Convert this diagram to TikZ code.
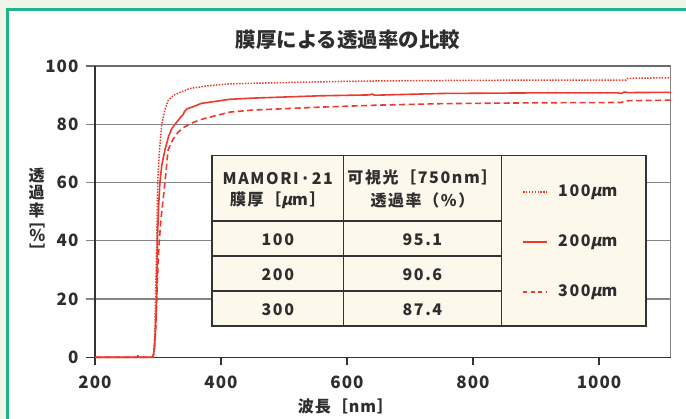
\documentclass[tikz,border=0pt]{standalone}
\usepackage{fontspec}
\setmainfont{Noto Sans CJK JP}[LetterSpace=6]
\newfontfamily\titlefont{Noto Sans CJK JP}
\newfontfamily\tblfont{Noto Sans CJK JP}[LetterSpace=10]
\newfontfamily\mufont{Noto Sans CJK JP}[FakeSlant=0.22]
\newcommand\myfs[1]{\fontsize{#1}{#1}\selectfont}
\newcommand\mymu{{\mufont μ}}
\definecolor{bgc}{HTML}{EFF6E8}
\definecolor{framec}{HTML}{1FB48C}
\definecolor{txt}{HTML}{2E2E2E}
\definecolor{gridc}{HTML}{858585}
\definecolor{axc}{HTML}{333333}
\definecolor{redc}{HTML}{EC3B2E}
\definecolor{creamc}{HTML}{FCF8EC}
\tikzset{
  gridln/.style={draw=gridc, line width=1.3pt},
  axisln/.style={draw=axc, line width=1.3pt},
  curvebase/.style={draw=redc, line width=1.6pt, line join=round},
  cdot/.style={curvebase, line width=1.5pt, dash pattern=on 1.5pt off 1.4pt},
  csolid/.style={curvebase},
  cdash/.style={curvebase, dash pattern=on 6pt off 3.5pt},
  legln/.style={draw=redc, line width=1.8pt},
  tbl/.style={draw=axc, line width=1.6pt},
  ticklab/.style={font=\bfseries\myfs{17}, text=txt, inner sep=0pt},
  celltxt/.style={font=\tblfont\bfseries\myfs{16}, text=txt, inner sep=0pt},
  labtxt/.style={font=\bfseries\myfs{16}, text=txt, inner sep=0pt},
}
\begin{document}
\begin{tikzpicture}[x=1pt,y=-1pt]
\useasboundingbox (0,0) rectangle (686,419);
\fill[bgc] (0,0) rectangle (686,419);
\draw[framec, line width=2.6pt, fill=white] (7.7,9.8) rectangle (720,450);
\node[font=\titlefont\bfseries\myfs{20.5}, text=txt, inner sep=0pt] (title) at (348,40) {膜厚による透過率の比較};

\begin{scope}[shift={(-31,357.3)}, x=0.63pt, y=2.912pt]
  \foreach \t in {20,40,60,80} \draw[gridln] (185.7,\t) -- (1114,\t);
  \draw[draw=gridc!80!black, line width=1.3pt] (185.7,100) -- (1114,100);
  \draw[gridln] (1114,0) -- (1114,100);
  \draw[axisln] (185.7,0) -- (1114,0);
  \draw[axisln] (200,-2.75) -- (200,100);
  \foreach \l in {400,600,800,1000} \draw[axisln] (\l,0) -- (\l,-2.75);
  \foreach \t in {0,20,40,60,80,100}
    \node[ticklab, anchor=east] (yl\t) at (174,\t) {\t};
  \foreach \l in {200,400,600,800,1000}
    \node[ticklab] (xl\l) at (\l,-8.5) {\l};
  % 100 um dotted
  \draw[cdot] (200,0) -- (266,0) -- (268,0.5) -- (270,0) -- (291,0) -- (293,1) -- (295,8) -- (296,20) -- (298,40) -- (299.5,60) -- (302,70) -- (306,80) -- (311,85) -- (316,88.2) -- (325,90.0) -- (335,91.0) -- (342,91.5) -- (350,92.3) -- (382,93.3) -- (414,93.9) -- (450,94.1) -- (557,94.6) -- (650,94.9) -- (700,95.0) -- (800,95.1) -- (900,95.2) -- (1000,95.2) -- (1043,95.2) -- (1046,95.8) -- (1114,96.0);
  % 200 um solid
  \draw[csolid] (200,0) -- (266,0) -- (268,0.5) -- (270,0) -- (291,0) -- (293,1) -- (295,5) -- (297,15) -- (298,22) -- (299,40) -- (301,52) -- (303,60) -- (306,66) -- (311,71.2) -- (317,76) -- (322,78.6) -- (327,80) -- (335,82.2) -- (340,83.4) -- (342,84.4) -- (346,85.3) -- (355,86.0) -- (369,87.2) -- (414,88.6) -- (450,89.0) -- (557,89.8) -- (635,90.1) -- (640,90.4) -- (644,90.0) -- (750,90.6) -- (900,90.8) -- (1030,90.8) -- (1036,90.6) -- (1040,91.1) -- (1046,90.9) -- (1114,91.0);
  % 300 um dashed
  \draw[cdash] (200,0) -- (266,0) -- (268,0.4) -- (270,0) -- (292,0) -- (294,2) -- (296,8) -- (298,20) -- (300,32) -- (302,40) -- (305,48) -- (308,54) -- (312,62) -- (316,71.2) -- (324,74.9) -- (332,77.3) -- (340,78.8) -- (351,80.2) -- (360,81.0) -- (372,81.9) -- (414,84.2) -- (450,84.9) -- (557,85.9) -- (650,86.6) -- (750,87.1) -- (900,87.4) -- (1036,87.5) -- (1041,88.1) -- (1114,88.3);
\end{scope}

% axis labels
\node[labtxt] (xlab) at (345.5,406.7) {波長［nm］};
\node[labtxt] (yl1) at (36.7,175) {透};
\node[labtxt] (yl2) at (36.7,192.5) {過};
\node[labtxt] (yl3) at (36.7,210) {率};
\node[labtxt, rotate=-90] (yb1) at (37.3,221) {［};
\node[labtxt] (ypc) at (37.3,235.5) {％};
\node[labtxt, rotate=-90] (yb2) at (37.3,252) {］};

% table
\fill[creamc] (212,155.7) rectangle (646,326);
\draw[tbl] (212,155.7) rectangle (646,326);
\draw[tbl] (343.5,155.7) -- (343.5,326);
\draw[tbl] (501.3,155.7) -- (501.3,326);
\foreach \yy in {221,256.3,291.3} \draw[tbl] (212,\yy) -- (501.3,\yy);

\node[celltxt] (h1a) at (277.8,178.3) {MAMORI·21};
\node[celltxt] (h1b) at (277.8,200) {膜厚［\mymu m］};
\node[celltxt] (h2a) at (422.4,177.7) {可視光［750nm］};
\node[celltxt] (h2b) at (422.4,200) {透過率（\%）};
\node[celltxt] (r1a) at (277.8,240) {100};
\node[celltxt] (r2a) at (277.8,275) {200};
\node[celltxt] (r3a) at (277.8,310) {300};
\node[celltxt] (r1b) at (422.4,240) {95.1};
\node[celltxt] (r2b) at (422.4,275) {90.6};
\node[celltxt] (r3b) at (422.4,310) {87.4};

% legend
\coordinate (la1) at (523,191.7); \coordinate (lb1) at (547,191.7);
\coordinate (la2) at (523,241.7); \coordinate (lb2) at (547,241.7);
\coordinate (la3) at (523,292.3); \coordinate (lb3) at (547,292.3);
\draw[legln, dash pattern=on 1.5pt off 1.4pt] (la1) -- (lb1);
\draw[legln] (la2) -- (lb2);
\draw[legln, dash pattern=on 4pt off 3.5pt] (la3) -- (lb3);
\node[celltxt, anchor=west] (lt1) at (558,191.7) {100\mymu m};
\node[celltxt, anchor=west] (lt2) at (558,241.7) {200\mymu m};
\node[celltxt, anchor=west] (lt3) at (558,292.3) {300\mymu m};
\end{tikzpicture}
\end{document}
